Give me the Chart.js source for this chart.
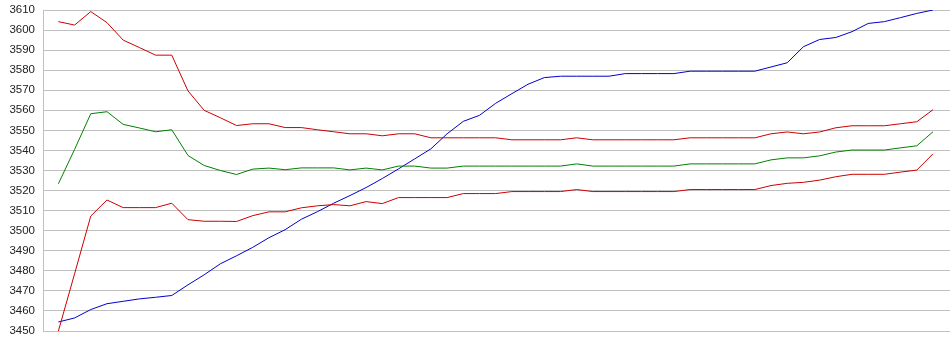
<!DOCTYPE html>
<html>
<head>
<meta charset="utf-8">
<script src="https://cdn.jsdelivr.net/npm/chart.js@4/dist/chart.umd.min.js"></script>
<style>
html,body{margin:0;padding:0;background:#fff;}
#wrap{width:950px;height:355px;}
</style>
</head>
<body>
<div id="wrap"><canvas id="c" width="950" height="355"></canvas></div>
<script>
const yTicks = [3450,3460,3470,3480,3490,3500,3510,3520,3530,3540,3550,3560,3570,3580,3590,3600,3610];

const upperRed = [3604.2,3602.5,3609.2,3603.7,3595,3591.3,3587.5,3587.5,3569.7,3560,
  3556.3,3552.4,3553.3,3553.3,3551.4,3551.4,3550.3,3549.3,3548.3,3548.3,
  3547.3,3548.3,3548.3,3546.3,3546.3,3546.3,3546.3,3546.3,3545.3,3545.3,
  3545.3,3545.3,3546.3,3545.3,3545.3,3545.3,3545.3,3545.3,3545.3,3546.3,
  3546.3,3546.3,3546.3,3546.3,3548.3,3549.2,3548.3,3549.2,3551.3,3552.3,
  3552.3,3552.3,3553.3,3554.3,3560.3];

const middleGreen = [3523.4,3540.5,3558.3,3559.3,3553,3551.2,3549.3,3550.3,3537.5,3532.5,
  3530,3528,3530.7,3531.2,3530.4,3531.3,3531.3,3531.3,3530.3,3531.2,
  3530.3,3532.2,3532.2,3531.2,3531.2,3532.2,3532.2,3532.2,3532.2,3532.2,
  3532.2,3532.2,3533.3,3532.2,3532.2,3532.2,3532.2,3532.2,3532.2,3533.3,
  3533.3,3533.3,3533.3,3533.3,3535.3,3536.3,3536.3,3537.3,3539.2,3540.2,
  3540.2,3540.2,3541.3,3542.3,3549.3];

const lowerRed = [3450,3478.5,3507.3,3515.3,3511.5,3511.5,3511.5,3513.7,3505.5,3504.7,
  3504.7,3504.6,3507.5,3509.4,3509.4,3511.4,3512.4,3513,3512.4,3514.5,
  3513.5,3516.5,3516.5,3516.5,3516.5,3518.5,3518.5,3518.5,3519.5,3519.5,
  3519.5,3519.5,3520.5,3519.5,3519.5,3519.5,3519.5,3519.5,3519.5,3520.5,
  3520.5,3520.5,3520.5,3520.5,3522.5,3523.6,3524.1,3525.2,3526.9,3528.1,
  3528.1,3528.1,3529.2,3530.2,3538.3];

const blueLine = [3454.5,3456.5,3460.7,3463.6,3464.8,3466,3466.8,3467.7,3473,3478,
  3483.5,3487.5,3491.7,3496.5,3500.5,3505.7,3509.5,3513.7,3517.5,3521.5,
  3526,3530.8,3535.8,3540.8,3548.3,3554.5,3557.5,3563.5,3568.3,3573,
  3576.3,3577,3577,3577,3577,3578.3,3578.3,3578.3,3578.3,3579.5,
  3579.5,3579.5,3579.5,3579.5,3581.6,3583.7,3591.7,3595.3,3596.3,3599.2,
  3603.3,3604.2,3606.2,3608.3,3610];

const toPts = arr => arr.map((v, i) => ({x: i, y: v}));
const mk = (data, color) => ({
  data: toPts(data), borderColor: color, backgroundColor: color,
  borderWidth: 1, pointRadius: 0, tension: 0, fill: false
});

new Chart(document.getElementById('c'), {
  type: 'line',
  data: {
    datasets: [
      mk(upperRed, '#cc0000'),
      mk(middleGreen, '#008000'),
      mk(lowerRed, '#cc0000'),
      mk(blueLine, '#0000cc')
    ]
  },
  options: {
    responsive: false,
    animation: false,
    events: [],
    layout: {padding: {top: 10, bottom: 24, left: 0, right: 0}},
    plugins: {legend: {display: false}, tooltip: {enabled: false}},
    scales: {
      x: {
        type: 'linear', min: -0.95, max: 55.05, display: false
      },
      y: {
        min: 3450, max: 3610,
        afterFit: s => { s.width = 43; s.paddingTop = 0; s.paddingBottom = 0; },
        afterBuildTicks: s => { s.ticks = yTicks.map(v => ({value: v})); },
        grid: {color: '#c0c0c0', lineWidth: 1, drawTicks: false},
        border: {display: true, color: '#c0c0c0'},
        ticks: {
          padding: 8,
          color: '#222',
          callback: v => String(v),
          font: {family: 'Liberation Sans, Arial, sans-serif', size: 11.5}
        }
      }
    }
  }
});
</script>
</body>
</html>
